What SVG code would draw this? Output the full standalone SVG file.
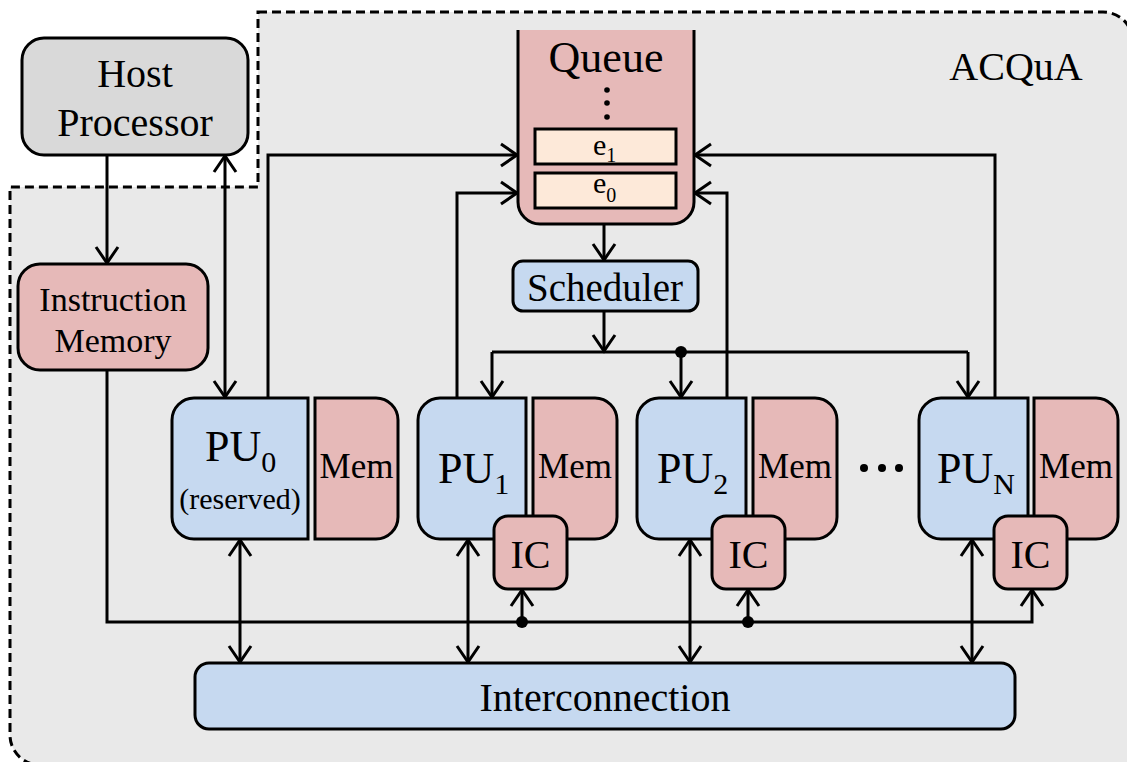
<svg xmlns="http://www.w3.org/2000/svg" width="1127" height="762" viewBox="0 0 1127 762">
<defs>
<style>
.bx{stroke:#000;stroke-width:3}
.blue{fill:#c6d9f0}
.pink{fill:#e6b9b8}
.gray{fill:#d9d9d9}
.cream{fill:#fde9d9}
.t{font-family:"Liberation Serif","Times New Roman",serif;fill:#000}
.c{stroke:#000;stroke-width:3;fill:none}
.m{marker-end:url(#a)}
.mm{marker-start:url(#a);marker-end:url(#a)}
</style>
<marker id="a" viewBox="-20 -14 22 28" refX="0" refY="0" markerWidth="22" markerHeight="28" markerUnits="userSpaceOnUse" orient="auto-start-reverse">
<path d="M-17,-11 L-1,0 L-17,11" fill="none" stroke="#000" stroke-width="3"/>
</marker>
</defs>
<rect width="1127" height="762" fill="#fff"/>
<g id="acqua">
<path d="M258,12 H1103 A30,30 0 0 1 1133,42 V765 H40 A30,30 0 0 1 10,735 V187 H258 Z" fill="#e9e9e9" stroke="#000" stroke-width="3" stroke-dasharray="9,5"/>
<text class="t" x="1016" y="80" font-size="40" text-anchor="middle">ACQuA</text>
</g>
<g id="connectors">
<path class="c m" d="M107,155 V264"/>
<path class="c mm" d="M225,155 V398"/>
<path class="c m" d="M268,398 V155 H518"/>
<path class="c m" d="M457,398 V193 H518"/>
<path class="c m" d="M727,398 V193 H694"/>
<path class="c m" d="M995,398 V155 H694"/>
<path class="c m" d="M604,224 V261"/>
<path class="c m" d="M604,311 V352"/>
<path class="c" d="M492,352 H968"/>
<path class="c m" d="M492,352 V398"/>
<path class="c m" d="M681,352 V398"/>
<path class="c m" d="M968,352 V398"/>
<circle cx="681" cy="352" r="6"/>
<path class="c m" d="M107,370 V622 H1032 V589"/>
<path class="c m" d="M522,622 V589"/>
<path class="c m" d="M748,622 V589"/>
<circle cx="522" cy="622" r="6"/>
<circle cx="748" cy="622" r="6"/>
<path class="c mm" d="M240,539 V663"/>
<path class="c mm" d="M468,539 V663"/>
<path class="c mm" d="M690,539 V663"/>
<path class="c mm" d="M972,539 V663"/>
</g>
<g id="host">
<rect class="bx gray" x="22" y="38" width="226" height="117" rx="22"/>
<text class="t" x="135" y="87" font-size="40" text-anchor="middle">Host</text>
<text class="t" x="135" y="136" font-size="40" text-anchor="middle">Processor</text>
</g>
<g id="queue">
<path class="bx pink" d="M518,30 V202 A22,22 0 0 0 540,224 H672 A22,22 0 0 0 694,202 V30"/>
<text class="t" x="606" y="72" font-size="44" text-anchor="middle">Queue</text>
<circle cx="607" cy="90" r="2.8"/>
<circle cx="607" cy="103" r="2.8"/>
<circle cx="607" cy="117" r="2.8"/>
<rect class="bx cream" x="535" y="129" width="141" height="35"/>
<text class="t" x="593" y="155" font-size="30">e<tspan font-size="20" dy="7">1</tspan></text>
<rect class="bx cream" x="535" y="173" width="141" height="35"/>
<text class="t" x="593" y="193" font-size="30">e<tspan font-size="20" dy="9">0</tspan></text>
</g>
<g id="scheduler">
<rect class="bx blue" x="513" y="261" width="185" height="50" rx="10"/>
<text class="t" x="605" y="301" font-size="39" text-anchor="middle">Scheduler</text>
</g>
<g id="instruction-memory">
<rect class="bx pink" x="18" y="264" width="190" height="106" rx="22"/>
<text class="t" x="113" y="311" font-size="34" text-anchor="middle">Instruction</text>
<text class="t" x="113" y="352" font-size="34" text-anchor="middle">Memory</text>
</g>
<g id="pu0">
<path class="bx blue" d="M308,398 V539 H194 A22,22 0 0 1 172,517 V420 A22,22 0 0 1 194,398 Z"/>
<text class="t" x="205" y="461" font-size="44">PU<tspan font-size="30" dy="11">0</tspan></text>
<text class="t" x="240" y="509" font-size="30" text-anchor="middle">(reserved)</text>
</g>
<g id="mem0">
<path class="bx pink" d="M315,398 H376 A22,22 0 0 1 398,420 V517 A22,22 0 0 1 376,539 H315 Z"/>
<text class="t" x="356.5" y="478" font-size="35" text-anchor="middle">Mem</text>
</g>
<g id="pu1">
<path class="bx blue" d="M526,398 V539 H440 A22,22 0 0 1 418,517 V420 A22,22 0 0 1 440,398 Z"/>
<text class="t" x="438" y="483" font-size="44">PU<tspan font-size="30" dy="11">1</tspan></text>
</g>
<g id="mem1">
<path class="bx pink" d="M533,398 H595 A22,22 0 0 1 617,420 V517 A22,22 0 0 1 595,539 H533 Z"/>
<text class="t" x="575" y="478" font-size="35" text-anchor="middle">Mem</text>
</g>
<g id="ic1">
<rect class="bx pink" x="494" y="516" width="73" height="73" rx="14"/>
<text class="t" x="530.5" y="568" font-size="40" text-anchor="middle">IC</text>
</g>
<g id="pu2">
<path class="bx blue" d="M746,398 V539 H659 A22,22 0 0 1 637,517 V420 A22,22 0 0 1 659,398 Z"/>
<text class="t" x="657" y="483" font-size="44">PU<tspan font-size="30" dy="11">2</tspan></text>
</g>
<g id="mem2">
<path class="bx pink" d="M753,398 H815 A22,22 0 0 1 837,420 V517 A22,22 0 0 1 815,539 H753 Z"/>
<text class="t" x="795" y="478" font-size="35" text-anchor="middle">Mem</text>
</g>
<g id="ic2">
<rect class="bx pink" x="712" y="516" width="73" height="73" rx="14"/>
<text class="t" x="748.5" y="568" font-size="40" text-anchor="middle">IC</text>
</g>
<g id="ellipsis">
<circle cx="864" cy="468" r="4"/>
<circle cx="882" cy="468" r="4"/>
<circle cx="899" cy="468" r="4"/>
</g>
<g id="pun">
<path class="bx blue" d="M1028,398 V539 H941 A22,22 0 0 1 919,517 V420 A22,22 0 0 1 941,398 Z"/>
<text class="t" x="937" y="483" font-size="44">PU<tspan font-size="30" dy="11">N</tspan></text>
</g>
<g id="memn">
<path class="bx pink" d="M1034,398 H1096 A22,22 0 0 1 1118,420 V517 A22,22 0 0 1 1096,539 H1034 Z"/>
<text class="t" x="1076" y="478" font-size="35" text-anchor="middle">Mem</text>
</g>
<g id="icn">
<rect class="bx pink" x="994" y="516" width="73" height="73" rx="14"/>
<text class="t" x="1030.5" y="568" font-size="40" text-anchor="middle">IC</text>
</g>
<g id="interconnection">
<rect class="bx blue" x="195" y="663" width="820" height="66" rx="14"/>
<text class="t" x="605" y="711" font-size="40" text-anchor="middle">Interconnection</text>
</g>
</svg>
